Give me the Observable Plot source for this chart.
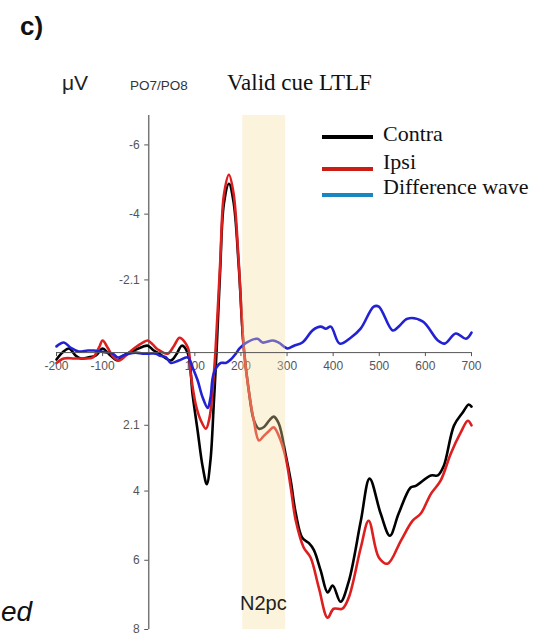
<!DOCTYPE html>
<html>
<head>
<meta charset="utf-8">
<script src="https://cdn.jsdelivr.net/npm/d3@7"></script>
<script src="https://cdn.jsdelivr.net/npm/@observablehq/plot@0.6"></script>
<style>
  body { margin: 0; background: #fff; }
  #fig { position: relative; width: 533px; height: 633px; overflow: hidden; background: #fff; }
  #head { position: relative; height: 100px; }
  .t { position: absolute; white-space: nowrap; line-height: 1; }
  .sans { font-family: "Liberation Sans", Arial, sans-serif; }
  .serif { font-family: "Liberation Serif", "Times New Roman", serif; }
  .key { position: absolute; height: 4px; width: 51px; left: 322px; }
  #chart { position: absolute; left: 0; top: 100px; }
</style>
</head>
<body>
<div id="fig">
  <div id="head">
    <div class="t sans" style="left:20px;top:13px;font-size:26px;font-weight:bold;color:#111">c)</div>
    <div class="t sans" style="left:62px;top:72px;font-size:21px;color:#222">μV</div>
    <div class="t sans" style="left:130px;top:79px;font-size:13.5px;color:#333">PO7/PO8</div>
    <div class="t serif" style="left:227px;top:71px;font-size:23px;color:#111">Valid cue LTLF</div>
  </div>
  <div id="chart"></div>
  <!-- legend -->
  <div class="key" style="top:135px;background:#000"></div>
  <div class="key" style="top:167px;background:#cc1d14"></div>
  <div class="key" style="top:193px;background:#1a86c0"></div>
  <div class="t serif" style="left:383px;top:123px;font-size:22px;color:#111">Contra</div>
  <div class="t serif" style="left:383px;top:151px;font-size:22px;color:#111">Ipsi</div>
  <div class="t serif" style="left:383px;top:176px;font-size:22px;color:#111">Difference wave</div>
  <div class="t sans" style="left:240px;top:593px;font-size:20px;color:#222">N2pc</div>
  <div class="t sans" style="left:1px;top:598px;font-size:28px;font-style:italic;color:#111">ed</div>
</div>
<script>
// Grand-average ERPs at PO7/PO8 (ms, µV); negative is plotted upward.
const contraT = [-200,-187,-173,-158,-147,-132,-115,-100,-87,-67,-56,-32,-13,-2,11,25,48,60,72,85,95,106,117,126,134,141,147,155,163,174,184,195,206,217,228,239,250,262,271,282,297,308,319,333,347,358,373,388,399,416,434,460,479,503,523,542,568,579,612,627,640,662,681,694,700];
const contraV = [0.2,0.0,-0.12,0.09,0.17,0.14,0.09,-0.12,0.03,0.23,0.09,-0.06,-0.17,-0.2,-0.06,0.05,0.23,0.05,-0.2,0.03,1.2,2.25,3.3,3.8,3.1,1.5,0.0,-2.4,-4.3,-4.88,-4.35,-2.55,-0.15,1.1,1.95,2.2,2.15,1.95,1.85,2.05,2.95,3.7,4.65,5.35,5.5,5.7,6.3,6.93,6.73,7.2,6.6,4.86,3.64,4.65,5.29,4.65,3.9,3.85,3.55,3.55,3.27,2.11,1.73,1.5,1.56];

const ipsiT = [-200,-184,-162,-141,-121,-108,-100,-89,-76,-65,-50,-32,-13,-2,9,20,41,55,67,85,91,102,113,124,132,139,145,155,163,174,184,195,206,217,228,239,250,262,271,282,297,308,319,336,351,369,388,401,420,434,460,477,499,518,547,572,590,612,633,655,677,692,700];
const ipsiV = [0.3,0.17,0.17,0.17,0.14,-0.14,-0.35,-0.14,0.14,0.23,0.09,-0.12,-0.29,-0.35,-0.23,-0.09,0.03,-0.2,-0.43,-0.14,0.6,1.5,1.96,2.2,1.87,1.0,-0.1,-2.6,-4.55,-5.14,-4.6,-2.66,-0.15,1.1,1.97,2.54,2.4,2.25,2.16,2.4,3.03,3.9,4.86,5.63,5.92,6.8,7.66,7.4,7.4,7.07,5.63,4.86,5.92,6.1,5.43,4.86,4.65,4.08,3.7,2.92,2.3,1.97,2.1];

const diffT = [-200,-184,-169,-152,-132,-119,-104,-89,-78,-67,-56,-43,-28,-13,0,15,25,37,48,65,85,95,106,117,128,134,141,156,167,178,189,197,212,236,247,269,282,301,315,334,356,373,384,395,414,438,460,488,499,529,542,561,594,627,642,666,688,700];
const diffV = [-0.18,-0.29,-0.14,-0.03,-0.06,-0.06,-0.03,0.0,0.03,0.14,0.09,0.03,0.0,0.03,0.03,0.03,0.09,0.13,0.3,0.23,0.14,0.43,0.8,1.3,1.6,1.3,0.6,0.3,0.3,0.2,0.03,-0.12,-0.29,-0.4,-0.29,-0.35,-0.29,-0.12,-0.2,-0.3,-0.65,-0.75,-0.69,-0.75,-0.26,-0.43,-0.7,-1.33,-1.33,-0.64,-0.75,-0.98,-0.9,-0.35,-0.26,-0.55,-0.4,-0.58];

// Axis ticks and the N2pc analysis window
const xTicks = [-200,-100,100,200,300,400,500,600,700];
const yTicks = [-6,-4,-2.1,2.1,4,6,8];
const n2pcWindow = [{start: 204, end: 297}];

const toRows = (T, V) => T.map((t, i) => ({t, v: V[i]}));
const contra = toRows(contraT, contraV);
const ipsi = toRows(ipsiT, ipsiV);
const diff = toRows(diffT, diffV);

const chart = Plot.plot({
  width: 533,
  height: 533,
  marginTop: 15,
  marginBottom: 4,
  marginLeft: 56,
  marginRight: 62,
  x: {domain: [-200, 700]},
  y: {domain: [-6.85, 8], reverse: true},
  style: {fontFamily: "'Liberation Sans', Arial, sans-serif", fontSize: "12px", background: "transparent", overflow: "visible"},
  marks: [
    Plot.ruleX([0], {stroke: "#777", strokeWidth: 1.5}),
    Plot.axisX(xTicks, {y: 0, anchor: "bottom", tickSize: 4, tickPadding: 5, fontSize: 12, stroke: "#555", fill: "#555", label: null, tickFormat: d => String(d)}),
    Plot.axisY(yTicks, {x: 0, anchor: "left", tickSize: 4, tickPadding: 5, fontSize: 12, stroke: "#555", fill: "#555", label: null, tickFormat: d => String(d)}),
    Plot.line(contra, {x: "t", y: "v", stroke: "#000", strokeWidth: 2.6, curve: "catmull-rom"}),
    Plot.line(ipsi, {x: "t", y: "v", stroke: "#dd1f1f", strokeWidth: 2.6, curve: "catmull-rom"}),
    Plot.line(diff, {x: "t", y: "v", stroke: "#2222d4", strokeWidth: 2.6, curve: "catmull-rom"}),
    Plot.rect(n2pcWindow, {x1: "start", x2: "end", fill: "#f7dfa0", fillOpacity: 0.37}),
    Plot.ruleY([0], {stroke: "#555", strokeWidth: 1})
  ]
});
document.getElementById("chart").append(chart);
</script>
</body>
</html>
